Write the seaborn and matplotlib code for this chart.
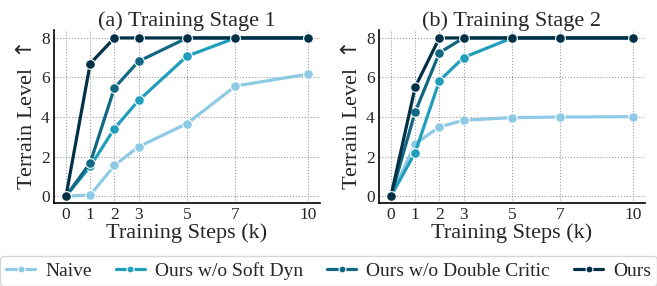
import matplotlib
matplotlib.use("Agg")
import matplotlib.pyplot as plt
import seaborn as sns
import pandas as pd

sns.set_theme(style="white")
plt.rcParams['font.family'] = ['Liberation Serif', 'DejaVu Serif']

steps = [0, 1, 2, 3, 5, 7, 10]
methods = ['Naive', 'Ours w/o Soft Dyn', 'Ours w/o Double Critic', 'Ours']
colors = ['#8ecae6', '#219ebc', '#126782', '#023047']

stage1 = {
    'Naive': [0, 0.05, 1.55, 2.5, 3.67, 5.57, 6.17],
    'Ours w/o Soft Dyn': [0, 1.5, 3.42, 4.84, 7.08, 8, 8],
    'Ours w/o Double Critic': [0, 1.68, 5.47, 6.82, 8, 8, 8],
    'Ours': [0, 6.7, 8, 8, 8, 8, 8],
}
stage2 = {
    'Naive': [0, 2.64, 3.5, 3.84, 3.97, 4.0, 4.02],
    'Ours w/o Soft Dyn': [0, 2.2, 5.83, 7.01, 8, 8, 8],
    'Ours w/o Double Critic': [0, 4.25, 7.25, 8, 8, 8, 8],
    'Ours': [0, 5.51, 8, 8, 8, 8, 8],
}
titles = ['(a) Training Stage 1', '(b) Training Stage 2']


def to_long(d):
    rows = []
    for m in methods:
        for s, v in zip(steps, d[m]):
            rows.append({'Step': s, 'Level': v, 'Method': m})
    return pd.DataFrame(rows)


fig, axes = plt.subplots(1, 2, figsize=(6.57, 2.86), dpi=100)
fig.subplots_adjust(left=0.082, right=0.982, top=0.895, bottom=0.29, wspace=0.22)

for ax, data, title in zip(axes, [stage1, stage2], titles):
    df = to_long(data)
    sns.lineplot(data=df, x='Step', y='Level', hue='Method', hue_order=methods,
                 palette=colors, marker='o', markersize=7, linewidth=2.3,
                 markeredgecolor='white', markeredgewidth=0.8, ax=ax, legend=True)
    ax.set_title(title, fontsize=16, pad=3)
    ax.set_xlabel('Training Steps (k)', fontsize=16, labelpad=0)
    ax.set_ylabel('Terrain Level $\\uparrow$', fontsize=16, labelpad=3)
    ax.set_xticks(steps)
    ax.set_yticks([0, 2, 4, 6, 8])
    ax.set_xlim(-0.5, 10.5)
    ax.set_ylim(-0.35, 8.4)
    ax.tick_params(labelsize=12.5, length=0, pad=3)
    ax.grid(True, linestyle=':', color='#999999', linewidth=0.8)
    sns.despine(ax=ax)
    for sp in ['left', 'bottom']:
        ax.spines[sp].set_color('black')
        ax.spines[sp].set_linewidth(1.2)
    ax.get_legend().remove()

handles, labels = axes[0].get_legend_handles_labels()
for h in handles:
    h.set_markersize(5)
leg = fig.legend(handles, labels, loc='lower center', ncol=4, fontsize=14,
                 bbox_to_anchor=(0.5, -0.02), frameon=True, handlelength=1.5,
                 columnspacing=1.25, handletextpad=0.5, borderpad=0.3,
                 borderaxespad=0.3)
leg.get_frame().set_edgecolor('#cccccc')

fig.savefig('out.png', dpi=100)
